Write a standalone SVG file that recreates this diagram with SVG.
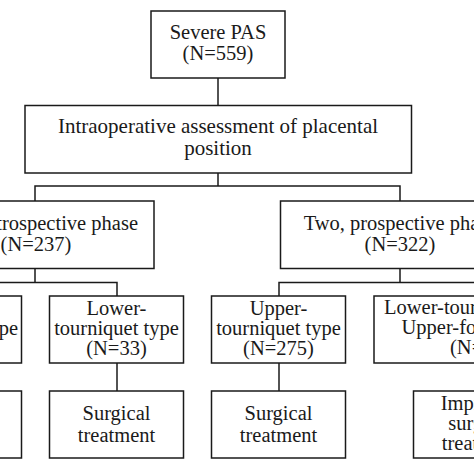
<svg xmlns="http://www.w3.org/2000/svg" width="474" height="474" viewBox="0 0 474 474">
<style>
.box{fill:#fff;stroke:#1a1a1a;stroke-width:1.5}
.ln{fill:none;stroke:#1a1a1a;stroke-width:1.5}
text{font-family:"Liberation Serif","Times New Roman",serif;font-size:20.5px;fill:#1a1a1a}
.m{text-anchor:middle}
.e{text-anchor:end}
</style>
<rect width="474" height="474" fill="#fff"/>
<g id="connectors">
<path class="ln" d="M218,78 V105.5"/>
<path class="ln" d="M218,173 V186 M35,201 V186 H400 V201"/>
<path class="ln" d="M35,268 V282.5 M-45,296 V282.5 H117 V296"/>
<path class="ln" d="M400,268 V282.5 M279,296 V282.5 H479.5 V296"/>
<path class="ln" d="M117,363 V391"/>
<path class="ln" d="M279,363 V391"/>
</g>
<g id="severe">
<rect class="box" x="151" y="11" width="134" height="67"/>
<text class="m" x="218" y="39">Severe PAS</text>
<text class="m" x="218" y="60">(N=559)</text>
</g>
<g id="assessment">
<rect class="box" x="25" y="105.5" width="386.5" height="67.5"/>
<text class="m" x="218" y="133" style="font-size:21px">Intraoperative assessment of placental</text>
<text class="m" x="218" y="155" style="font-size:21px">position</text>
</g>
<g id="phase-one">
<rect class="box" x="-84" y="201" width="238" height="67.5"/>
<text class="e" x="138" y="230">One, retrospective phase</text>
<text class="m" x="36" y="251">(N=237)</text>
</g>
<g id="phase-two">
<rect class="box" x="280.5" y="201" width="239" height="67.5"/>
<text class="m" x="400" y="230">Two, prospective phase</text>
<text class="m" x="400" y="251">(N=322)</text>
</g>
<g id="one-upper">
<rect class="box" x="-112.5" y="296" width="134" height="67"/>
<text class="e" x="18" y="335">tourniquet type</text>
</g>
<g id="one-lower">
<rect class="box" x="49.5" y="296" width="134" height="67"/>
<text class="m" x="116.5" y="315">Lower-</text>
<text class="m" x="116.5" y="335">tourniquet type</text>
<text class="m" x="116.5" y="355">(N=33)</text>
</g>
<g id="two-upper">
<rect class="box" x="211.5" y="296" width="134" height="67"/>
<text class="m" x="278.5" y="315">Upper-</text>
<text class="m" x="278.5" y="335">tourniquet type</text>
<text class="m" x="278.5" y="355">(N=275)</text>
</g>
<g id="two-lower-upper">
<rect class="box" x="374" y="296" width="211" height="67"/>
<text x="384" y="314">Lower-tourniquet type +</text>
<text x="401.5" y="334">Upper-fornix type</text>
<text x="450" y="354">(N=47)</text>
</g>
<g id="one-lower-treat">
<rect class="box" x="-112.5" y="391" width="134" height="67"/>
</g>
<g id="one-lower-surg">
<rect class="box" x="49.5" y="391" width="134" height="67"/>
<text class="m" x="116.5" y="420">Surgical</text>
<text class="m" x="116.5" y="441.5">treatment</text>
</g>
<g id="two-upper-surg">
<rect class="box" x="211.5" y="391" width="134" height="67"/>
<text class="m" x="278.5" y="420">Surgical</text>
<text class="m" x="278.5" y="441.5">treatment</text>
</g>
<g id="two-improved">
<rect class="box" x="413.5" y="391" width="132" height="67"/>
<text class="m" x="480.5" y="410">Improved</text>
<text class="m" x="480.5" y="430">surgical</text>
<text class="m" x="480.5" y="450">treatment</text>
</g>
</svg>
